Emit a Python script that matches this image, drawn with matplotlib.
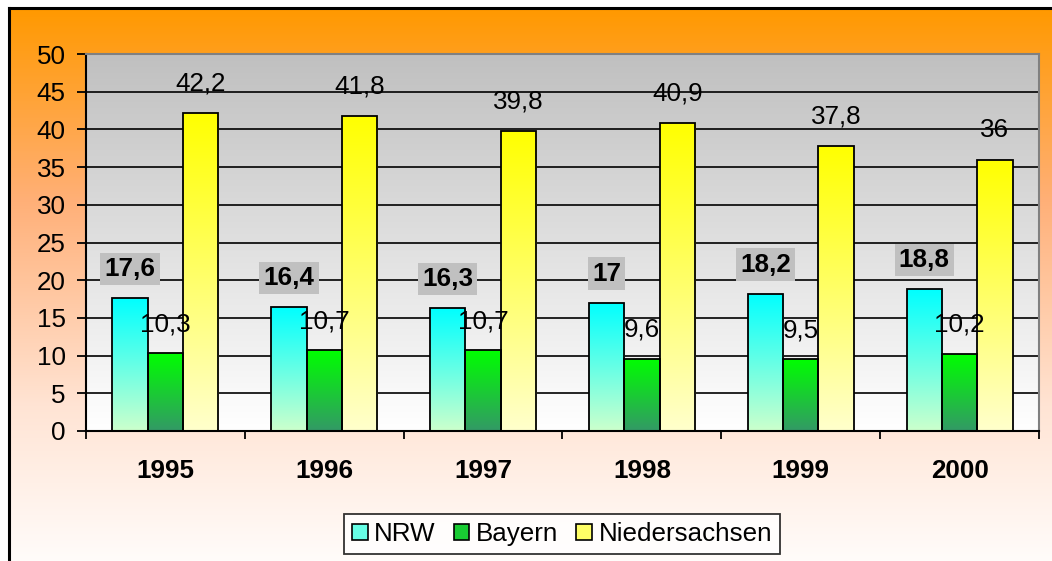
import numpy as np
import matplotlib
matplotlib.use('Agg')
import matplotlib.pyplot as plt
from matplotlib.colors import LinearSegmentedColormap
from matplotlib.patches import Patch

plt.rcParams['font.family'] = ['Liberation Sans', 'DejaVu Sans']

# Datos
jahre = ['1995', '1996', '1997', '1998', '1999', '2000']
nrw = [17.6, 16.4, 16.3, 17.0, 18.2, 18.8]
bayern = [10.3, 10.7, 10.7, 9.6, 9.5, 10.2]
niedersachsen = [42.2, 41.8, 39.8, 40.9, 37.8, 36.0]

serien = ['NRW', 'Bayern', 'Niedersachsen']
werte = [nrw, bayern, niedersachsen]
# (unten, oben) Farben des Verlaufs
verlauf = [('#CCFFCC', '#00FFFF'), ('#339966', '#00FF00'), ('#FFFFCC', '#FFFF00')]
fett = [True, False, False]
fs = 18.7

W, H = 1052, 561
fig = plt.figure(figsize=(W / 100, H / 100), dpi=100)
fig.patch.set_facecolor('white')

# Hintergrund mit orange Verlauf
bg = fig.add_axes([9 / W, 0, 1 - 9 / W, (H - 8) / H], zorder=-1)
bg_cmap = LinearSegmentedColormap.from_list(
    'bg', [(0, '#FF9900'), (0.35, '#FFB078'), (0.72, '#FFE4D4'), (1, '#FFFCFA')])
bg.imshow(np.linspace(1, 0, 256).reshape(-1, 1), cmap=bg_cmap, aspect='auto',
          extent=[0, 1, 0, 1], origin='lower')
bg.set_xlim(0, 1)
bg.set_ylim(0, 1)
bg.set_xticks([])
bg.set_yticks([])
for s in ['right', 'bottom']:
    bg.spines[s].set_visible(False)
for s in ['left', 'top']:
    bg.spines[s].set_linewidth(2.2)
    bg.spines[s].set_color('black')

# Diagramm
ax = fig.add_axes([86 / W, (H - 431) / H, (1039 - 86) / W, (431 - 54) / H])
ax.set_facecolor('none')
ax.imshow(np.linspace(0, 1, 256).reshape(-1, 1),
          cmap=LinearSegmentedColormap.from_list('pa', ['#FFFFFF', '#C0C0C0']),
          aspect='auto', extent=[0, 1, 0, 1], origin='lower',
          transform=ax.transAxes, zorder=0)

x = np.arange(len(jahre))
breite = 1 / 4.5

for i, (name, vals) in enumerate(zip(serien, werte)):
    pos = x + (i - 1) * breite
    cmap = LinearSegmentedColormap.from_list(name, verlauf[i])
    bars = ax.bar(pos, vals, width=breite, facecolor='none', edgecolor='black',
                  linewidth=1.3, zorder=3)
    for b in bars:
        x0, y0 = b.get_x(), b.get_y()
        im = ax.imshow(np.linspace(0, 1, 256).reshape(-1, 1), cmap=cmap, aspect='auto',
                       extent=[x0, x0 + b.get_width(), y0, y0 + b.get_height()],
                       origin='lower', zorder=2)
        im.set_clip_path(b)
    for p, v in zip(pos, vals):
        txt = f'{v:g}'.replace('.', ',')
        kw = {}
        if fett[i]:
            kw = dict(fontweight='bold',
                      bbox=dict(boxstyle='square,pad=0.16', facecolor='#C0C0C0',
                                edgecolor='none'))
        ax.annotate(txt, (p, v), xytext=(0, 21), textcoords='offset points',
                    ha='center', va='center', fontsize=fs, zorder=5, **kw)

ax.set_xlim(-0.5, len(jahre) - 0.5)
ax.set_ylim(0, 50)

ax.set_yticks(np.arange(0, 51, 5))
ax.yaxis.grid(True, color='black', linewidth=1.2)
ax.set_axisbelow(True)
ax.tick_params(axis='y', direction='out', length=6.5, width=1.3, labelsize=fs, pad=8)

ax.set_xticks(np.arange(-0.5, len(jahre)), labels=[])
ax.set_xticks(x, labels=jahre, minor=True)
ax.tick_params(axis='x', which='major', direction='out', length=6, width=1.3)
ax.tick_params(axis='x', which='minor', length=0, labelsize=fs, pad=20)
for lbl in ax.get_xticklabels(minor=True):
    lbl.set_fontweight('bold')

for s in ['left', 'bottom']:
    ax.spines[s].set_color('black')
    ax.spines[s].set_linewidth(1.5)
for s in ['top', 'right']:
    ax.spines[s].set_color('#808080')
    ax.spines[s].set_linewidth(1.5)

# Legende
handles = [Patch(facecolor=LinearSegmentedColormap.from_list('h', c)(0.5),
                 edgecolor='black', linewidth=1.2) for c in verlauf]
leg = fig.legend(handles, serien, loc='center', bbox_to_anchor=(562 / W, 1 - 534 / H),
                 ncol=3, fontsize=fs, frameon=True, fancybox=False,
                 handlelength=0.6, handleheight=0.6, handletextpad=0.25,
                 columnspacing=0.7, borderpad=0.3, borderaxespad=0)
leg.get_frame().set_edgecolor('black')
leg.get_frame().set_linewidth(1.3)
leg.get_frame().set_facecolor('white')

plt.savefig('out.png', dpi=100)
